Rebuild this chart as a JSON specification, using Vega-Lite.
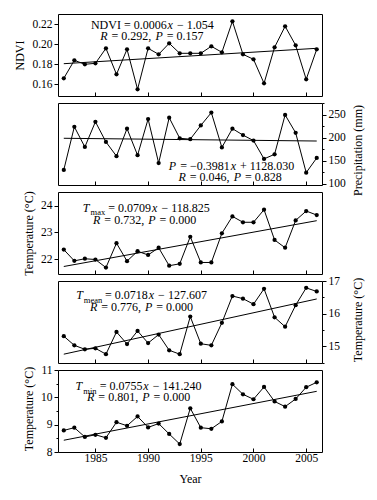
{
  "$schema": "https://vega.github.io/schema/vega-lite/v6.json",
  "autosize": {"type": "pad"},
  "padding": {"left": 13, "top": 13, "right": 5, "bottom": 5},
  "spacing": 7,
  "bounds": "flush",
  "background": "white",
  "config": {
    "view": {"stroke": "black", "strokeWidth": 1},
    "font": "Liberation Serif",
    "axis": {
      "labelFont": "Liberation Serif",
      "titleFont": "Liberation Serif",
      "labelFontSize": 11.5,
      "titleFontSize": 12,
      "titleFontWeight": "normal",
      "labelColor": "black",
      "titleColor": "black",
      "tickColor": "black",
      "domain": false,
      "grid": false
    },
    "text": {"font": "Liberation Serif", "fontSize": 12, "align": "left", "baseline": "alphabetic", "color": "black"},
    "line": {"color": "black", "strokeWidth": 1},
    "point": {"filled": true, "color": "black", "size": 18, "opacity": 1}
  },
  "datasets": {
    "d": [
      {"year": 1982, "ndvi": 0.166, "precip": 130, "tmax": 22.36, "tmean": 15.31, "tmin": 8.79},
      {"year": 1983, "ndvi": 0.184, "precip": 224, "tmax": 21.94, "tmean": 15.03, "tmin": 8.89},
      {"year": 1984, "ndvi": 0.180, "precip": 180, "tmax": 22.02, "tmean": 14.91, "tmin": 8.55},
      {"year": 1985, "ndvi": 0.181, "precip": 235, "tmax": 21.99, "tmean": 14.94, "tmin": 8.63},
      {"year": 1986, "ndvi": 0.196, "precip": 191, "tmax": 21.69, "tmean": 14.76, "tmin": 8.52},
      {"year": 1987, "ndvi": 0.170, "precip": 160, "tmax": 22.60, "tmean": 15.44, "tmin": 9.09},
      {"year": 1988, "ndvi": 0.195, "precip": 220, "tmax": 21.93, "tmean": 15.07, "tmin": 8.96},
      {"year": 1989, "ndvi": 0.155, "precip": 162, "tmax": 22.30, "tmean": 15.47, "tmin": 9.30},
      {"year": 1990, "ndvi": 0.196, "precip": 241, "tmax": 22.16, "tmean": 15.10, "tmin": 8.90},
      {"year": 1991, "ndvi": 0.190, "precip": 145, "tmax": 22.43, "tmean": 15.36, "tmin": 9.04},
      {"year": 1992, "ndvi": 0.201, "precip": 244, "tmax": 21.76, "tmean": 14.88, "tmin": 8.66},
      {"year": 1993, "ndvi": 0.191, "precip": 199, "tmax": 21.83, "tmean": 14.76, "tmin": 8.29},
      {"year": 1994, "ndvi": 0.191, "precip": 197, "tmax": 22.84, "tmean": 15.91, "tmin": 9.60},
      {"year": 1995, "ndvi": 0.191, "precip": 227, "tmax": 21.88, "tmean": 15.08, "tmin": 8.89},
      {"year": 1996, "ndvi": 0.198, "precip": 255, "tmax": 21.88, "tmean": 15.03, "tmin": 8.85},
      {"year": 1997, "ndvi": 0.192, "precip": 179, "tmax": 22.97, "tmean": 15.72, "tmin": 9.12},
      {"year": 1998, "ndvi": 0.223, "precip": 220, "tmax": 23.60, "tmean": 16.54, "tmin": 10.48},
      {"year": 1999, "ndvi": 0.190, "precip": 206, "tmax": 23.38, "tmean": 16.46, "tmin": 10.11},
      {"year": 2000, "ndvi": 0.185, "precip": 194, "tmax": 23.38, "tmean": 16.29, "tmin": 9.93},
      {"year": 2001, "ndvi": 0.161, "precip": 154, "tmax": 23.85, "tmean": 16.76, "tmin": 10.38},
      {"year": 2002, "ndvi": 0.197, "precip": 164, "tmax": 22.72, "tmean": 15.89, "tmin": 9.85},
      {"year": 2003, "ndvi": 0.218, "precip": 250, "tmax": 22.43, "tmean": 15.60, "tmin": 9.66},
      {"year": 2004, "ndvi": 0.199, "precip": 211, "tmax": 23.45, "tmean": 16.26, "tmin": 9.94},
      {"year": 2005, "ndvi": 0.165, "precip": 124, "tmax": 23.80, "tmean": 16.79, "tmin": 10.37},
      {"year": 2006, "ndvi": 0.195, "precip": 156, "tmax": 23.65, "tmean": 16.68, "tmin": 10.55}
    ],
    "t": [
      {"year": 1982, "ndvi": 0.1806, "precip": 199, "tmax": 21.73, "tmean": 14.76, "tmin": 8.43},
      {"year": 2006, "ndvi": 0.196, "precip": 193, "tmax": 23.44, "tmean": 16.45, "tmin": 10.22}
    ],
    "a1n": [
      {"year": 1984.57, "ndvi": 0.2156, "label": "NDVI = 0.0006"},
      {"year": 1992.74, "ndvi": 0.2156, "label": "− 1.054"},
      {"year": 1986.53, "ndvi": 0.2043, "label": "= 0.292,"},
      {"year": 1991.76, "ndvi": 0.2043, "label": "= 0.157"}
    ],
    "a1i": [
      {"year": 1991.85, "ndvi": 0.2156, "label": "x"},
      {"year": 1985.46, "ndvi": 0.2043, "label": "R"},
      {"year": 1990.69, "ndvi": 0.2043, "label": "P"}
    ],
    "a2n": [
      {"year": 1993.04, "precip": 129.7, "label": "= −0.3981"},
      {"year": 1998.72, "precip": 129.7, "label": "+ 1128.030"},
      {"year": 1993.96, "precip": 105.7, "label": "= 0.046,"},
      {"year": 1999.19, "precip": 105.7, "label": "= 0.828"}
    ],
    "a2i": [
      {"year": 1991.97, "precip": 129.7, "label": "P"},
      {"year": 1997.84, "precip": 129.7, "label": "x"},
      {"year": 1992.89, "precip": 105.7, "label": "R"},
      {"year": 1998.12, "precip": 105.7, "label": "P"}
    ],
    "a3n": [
      {"year": 1986.22, "tmax": 23.775, "label": "= 0.0709"},
      {"year": 1991.26, "tmax": 23.775, "label": "− 118.825"},
      {"year": 1985.85, "tmax": 23.30, "label": "= 0.732,"},
      {"year": 1991.08, "tmax": 23.30, "label": "= 0.000"}
    ],
    "a3i": [
      {"year": 1983.81, "tmax": 23.775, "label": "T"},
      {"year": 1990.38, "tmax": 23.775, "label": "x"},
      {"year": 1984.78, "tmax": 23.30, "label": "R"},
      {"year": 1990.01, "tmax": 23.30, "label": "P"}
    ],
    "a3s": [
      {"year": 1984.54, "tmax": 23.775, "label": "max"}
    ],
    "a4n": [
      {"year": 1985.91, "tmean": 16.44, "label": "= 0.0718"},
      {"year": 1990.95, "tmean": 16.44, "label": "− 127.607"},
      {"year": 1985.55, "tmean": 16.08, "label": "= 0.776,"},
      {"year": 1990.78, "tmean": 16.08, "label": "= 0.000"}
    ],
    "a4i": [
      {"year": 1983.17, "tmean": 16.44, "label": "T"},
      {"year": 1990.07, "tmean": 16.44, "label": "x"},
      {"year": 1984.48, "tmean": 16.08, "label": "R"},
      {"year": 1989.71, "tmean": 16.08, "label": "P"}
    ],
    "a4s": [
      {"year": 1983.90, "tmean": 16.44, "label": "mean"}
    ],
    "a5n": [
      {"year": 1985.40, "tmin": 10.262, "label": "= 0.0755"},
      {"year": 1990.44, "tmin": 10.262, "label": "− 141.240"},
      {"year": 1985.28, "tmin": 9.856, "label": "= 0.801,"},
      {"year": 1990.51, "tmin": 9.856, "label": "= 0.000"}
    ],
    "a5i": [
      {"year": 1983.11, "tmin": 10.262, "label": "T"},
      {"year": 1989.55, "tmin": 10.262, "label": "x"},
      {"year": 1984.21, "tmin": 9.856, "label": "R"},
      {"year": 1989.44, "tmin": 9.856, "label": "P"}
    ],
    "a5s": [
      {"year": 1983.85, "tmin": 10.262, "label": "min"}
    ]
  },
  "vconcat": [
    {
      "width": 264, "height": 82,
      "encoding": {
        "x": {"field": "year", "type": "quantitative", "scale": {"domain": [1981.45, 2006.5], "nice": false, "zero": false},
              "axis": {"values": [1985, 1990, 1995, 2000, 2005], "labels": false, "title": null, "tickSize": -4}},
        "y": {"field": "ndvi", "type": "quantitative", "scale": {"domain": [0.1483, 0.2303], "nice": false, "zero": false},
              "axis": {"values": [0.16, 0.18, 0.2, 0.22], "format": ".2f", "title": "NDVI", "tickSize": 4, "labelPadding": 2, "titlePadding": 5}}
      },
      "layer": [
        {"data": {"name": "d"}, "mark": {"type": "line"}, "encoding": {}},
        {"data": {"name": "d"}, "mark": {"type": "point"}},
        {"data": {"name": "t"}, "mark": {"type": "line"}, "encoding": {}},
        {"data": {"name": "a1n"}, "mark": {"type": "text"}, "encoding": {"text": {"field": "label"}}},
        {"data": {"name": "a1i"}, "mark": {"type": "text", "fontStyle": "italic"}, "encoding": {"text": {"field": "label"}}}
      ]
    },
    {
      "width": 264, "height": 82,
      "encoding": {
        "x": {"field": "year", "type": "quantitative", "scale": {"domain": [1981.45, 2006.5], "nice": false, "zero": false},
              "axis": {"values": [1985, 1990, 1995, 2000, 2005], "labels": false, "title": null, "tickSize": -4}},
        "y": {"field": "precip", "type": "quantitative", "scale": {"domain": [97, 276], "nice": false, "zero": false},
              "axis": {"orient": "right", "values": [100, 125, 150, 175, 200, 225, 250, 275],
                       "labelExpr": "datum.value % 50 === 0 ? '' + datum.value : ''",
                       "tickSize": {"condition": {"test": "datum.value % 50 === 0", "value": 4}, "value": 2},
                       "title": "Precipitation (mm)", "labelPadding": 2, "titlePadding": 7, "titleAngle": 270, "titleBaseline": "top", "titleY": 47}}
      },
      "layer": [
        {"data": {"name": "d"}, "mark": {"type": "line"}, "encoding": {}},
        {"data": {"name": "d"}, "mark": {"type": "point"}},
        {"data": {"name": "t"}, "mark": {"type": "line"}, "encoding": {}},
        {"data": {"name": "a2n"}, "mark": {"type": "text"}, "encoding": {"text": {"field": "label"}}},
        {"data": {"name": "a2i"}, "mark": {"type": "text", "fontStyle": "italic"}, "encoding": {"text": {"field": "label"}}}
      ]
    },
    {
      "width": 264, "height": 82,
      "encoding": {
        "x": {"field": "year", "type": "quantitative", "scale": {"domain": [1981.45, 2006.5], "nice": false, "zero": false},
              "axis": {"values": [1985, 1990, 1995, 2000, 2005], "labels": false, "title": null, "tickSize": -4}},
        "y": {"field": "tmax", "type": "quantitative", "scale": {"domain": [21.45, 24.51], "nice": false, "zero": false},
              "axis": {"values": [22, 23, 24], "labelExpr": "'' + datum.value", "title": "Temperature (°C)", "tickSize": 4, "labelPadding": 2, "titlePadding": 5}}
      },
      "layer": [
        {"data": {"name": "d"}, "mark": {"type": "line"}, "encoding": {}},
        {"data": {"name": "d"}, "mark": {"type": "point"}},
        {"data": {"name": "t"}, "mark": {"type": "line"}, "encoding": {}},
        {"data": {"name": "a3n"}, "mark": {"type": "text"}, "encoding": {"text": {"field": "label"}}},
        {"data": {"name": "a3i"}, "mark": {"type": "text", "fontStyle": "italic"}, "encoding": {"text": {"field": "label"}}},
        {"data": {"name": "a3s"}, "mark": {"type": "text", "fontSize": 8.5, "dy": 3.5}, "encoding": {"text": {"field": "label"}}}
      ]
    },
    {
      "width": 264, "height": 82,
      "encoding": {
        "x": {"field": "year", "type": "quantitative", "scale": {"domain": [1981.45, 2006.5], "nice": false, "zero": false},
              "axis": {"values": [1985, 1990, 1995, 2000, 2005], "labels": false, "title": null, "tickSize": -4}},
        "y": {"field": "tmean", "type": "quantitative", "scale": {"domain": [14.49, 17], "nice": false, "zero": false},
              "axis": {"orient": "right", "values": [14.5, 15, 15.5, 16, 16.5, 17],
                       "labelExpr": "datum.value % 1 === 0 ? '' + datum.value : ''",
                       "tickSize": {"condition": {"test": "datum.value % 1 === 0", "value": 4}, "value": 2},
                       "title": "Temperature (°C)", "labelPadding": 2, "titlePadding": 13, "titleAngle": 270, "titleBaseline": "top", "titleY": 38.5}}
      },
      "layer": [
        {"data": {"name": "d"}, "mark": {"type": "line"}, "encoding": {}},
        {"data": {"name": "d"}, "mark": {"type": "point"}},
        {"data": {"name": "t"}, "mark": {"type": "line"}, "encoding": {}},
        {"data": {"name": "a4n"}, "mark": {"type": "text"}, "encoding": {"text": {"field": "label"}}},
        {"data": {"name": "a4i"}, "mark": {"type": "text", "fontStyle": "italic"}, "encoding": {"text": {"field": "label"}}},
        {"data": {"name": "a4s"}, "mark": {"type": "text", "fontSize": 8.5, "dy": 3.5}, "encoding": {"text": {"field": "label"}}}
      ]
    },
    {
      "width": 264, "height": 82,
      "encoding": {
        "x": {"field": "year", "type": "quantitative", "scale": {"domain": [1981.45, 2006.5], "nice": false, "zero": false},
              "axis": {"values": [1985, 1990, 1995, 2000, 2005], "format": "d", "title": "Year", "tickSize": -4, "labelPadding": 4, "titlePadding": 10}},
        "y": {"field": "tmin", "type": "quantitative", "scale": {"domain": [8, 11], "nice": false, "zero": false},
              "axis": {"values": [8, 8.5, 9, 9.5, 10, 10.5, 11],
                       "labelExpr": "datum.value % 1 === 0 ? '' + datum.value : ''",
                       "tickSize": {"condition": {"test": "datum.value % 1 === 0", "value": 4}, "value": 2},
                       "title": "Temperature (°C)", "labelPadding": 2, "titlePadding": 5, "titleY": 38.5}}
      },
      "layer": [
        {"data": {"name": "d"}, "mark": {"type": "line"}, "encoding": {}},
        {"data": {"name": "d"}, "mark": {"type": "point"}},
        {"data": {"name": "t"}, "mark": {"type": "line"}, "encoding": {}},
        {"data": {"name": "a5n"}, "mark": {"type": "text"}, "encoding": {"text": {"field": "label"}}},
        {"data": {"name": "a5i"}, "mark": {"type": "text", "fontStyle": "italic"}, "encoding": {"text": {"field": "label"}}},
        {"data": {"name": "a5s"}, "mark": {"type": "text", "fontSize": 8.5, "dy": 3.5}, "encoding": {"text": {"field": "label"}}}
      ]
    }
  ]
}
